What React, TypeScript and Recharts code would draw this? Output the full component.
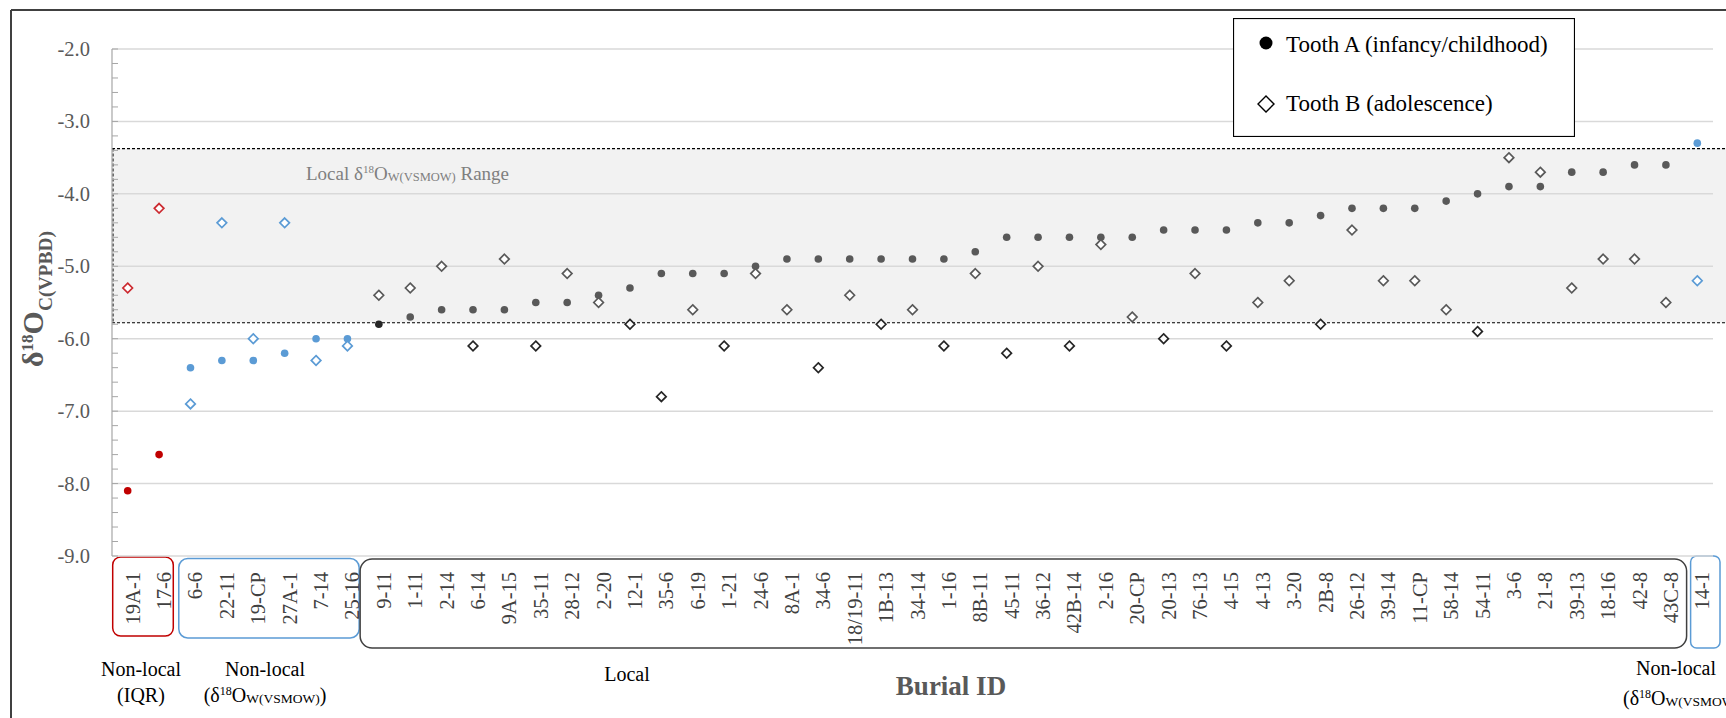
import React from "react"
import { ScatterChart, Scatter, XAxis, YAxis, ReferenceArea, ReferenceLine, Legend } from "recharts"

// Burial IDs in plotted order, with the two tooth values (δ18O carbonate, VPDB)
const burialIds = [
  '19A-1', '17-6', '6-6', '22-11', '19-CP', '27A-1', '7-14', '25-16', '9-11', '1-11',
  '2-14', '6-14', '9A-15', '35-11', '28-12', '2-20', '12-1', '35-6', '6-19', '1-21',
  '24-6', '8A-1', '34-6', '18/19-11', '1B-13', '34-14', '1-16', '8B-11', '45-11', '36-12',
  '42B-14', '2-16', '20-CP', '20-13', '76-13', '4-15', '4-13', '3-20', '2B-8', '26-12',
  '39-14', '11-CP', '58-14', '54-11', '3-6', '21-8', '39-13', '18-16', '42-8', '43C-8', '14-1',
]

const toothA = [
  -8.1, -7.6, -6.4, -6.3, -6.3, -6.2, -6.0, -6.0, -5.8, -5.7,
  -5.6, -5.6, -5.6, -5.5, -5.5, -5.4, -5.3, -5.1, -5.1, -5.1,
  -5.0, -4.9, -4.9, -4.9, -4.9, -4.9, -4.9, -4.8, -4.6, -4.6,
  -4.6, -4.6, -4.6, -4.5, -4.5, -4.5, -4.4, -4.4, -4.3, -4.2,
  -4.2, -4.2, -4.1, -4.0, -3.9, -3.9, -3.7, -3.7, -3.6, -3.6, -3.3,
]

const toothB = [
  -5.3, -4.2, -6.9, -4.4, -6.0, -4.4, -6.3, -6.1, -5.4, -5.3,
  -5.0, -6.1, -4.9, -6.1, -5.1, -5.5, -5.8, -6.8, -5.6, -6.1,
  -5.1, -5.6, -6.4, -5.4, -5.8, -5.6, -6.1, -5.1, -6.2, -5.0,
  -6.1, -4.7, -5.7, -6.0, -5.1, -6.1, -5.5, -5.2, -5.8, -4.5,
  -5.2, -5.2, -5.6, -5.9, -3.5, -3.7, -5.3, -4.9, -4.9, -5.5, -5.2,
]

// groups of burials (first..last id)
const groupSpans = [
  { kind: 'iqr', first: '19A-1', last: '17-6' },
  { kind: 'water', first: '6-6', last: '25-16' },
  { kind: 'local', first: '9-11', last: '43C-8' },
  { kind: 'water', first: '14-1', last: '14-1' },
]

// local δ18Ow(VSMOW) range converted to carbonate values
const localRange = [-5.78, -3.375]

const yMajorTicks = [-9, -8, -7, -6, -5, -4, -3, -2]
const yMinorTicks = [
  -9, -8.8, -8.6, -8.4, -8.2, -8, -7.8, -7.6, -7.4, -7.2, -7, -6.8, -6.6, -6.4, -6.2, -6,
  -5.8, -5.6, -5.4, -5.2, -5, -4.8, -4.6, -4.4, -4.2, -4, -3.8, -3.6, -3.4, -3.2, -3,
  -2.8, -2.6, -2.4, -2.2, -2,
]

const seriesNames = ['Tooth A (infancy/childhood)', 'Tooth B (adolescence)']

const RED = '#c00000'
const RED_LIGHT = '#cc2a30'
const BLUE = '#5b9bd5'
const GRAY = '#595959'
const DARK = '#262626'
const FONT = '"Liberation Serif", "Times New Roman", serif'

const kindOf = (i: number) => {
  const span = groupSpans.find(s => i >= burialIds.indexOf(s.first) && i <= burialIds.indexOf(s.last))
  return span ? span.kind : 'local'
}

const pointsA = burialIds.map((id, i) => ({ x: i, y: toothA[i], id, kind: kindOf(i) }))
const pointsB = burialIds.map((id, i) => ({ x: i, y: toothB[i], id, kind: kindOf(i) }))
const xTicks = burialIds.map((_, i) => i)

const colorFor = (p: any, red = RED) => {
  if (p.kind === 'iqr') return red
  if (p.kind === 'water') return BLUE
  return p.y < localRange[0] ? DARK : GRAY
}

const DotShape = (props: any) => (
  <circle cx={props.cx} cy={props.cy} r={3.8} fill={colorFor(props.payload)} />
)

const DiamondShape = (props: any) => {
  const { cx, cy } = props
  const s = 4.8
  return (
    <path
      d={`M${cx},${cy - s}L${cx + s},${cy}L${cx},${cy + s}L${cx - s},${cy}Z`}
      fill="#fff"
      stroke={colorFor(props.payload, RED_LIGHT)}
      strokeWidth={1.7}
    />
  )
}

const YTick = (props: any) => {
  const { x, y, payload } = props
  const v = payload.value
  const major = Math.abs(v - Math.round(v)) < 1e-6
  return (
    <g>
      <line x1={x} x2={x + 6} y1={y} y2={y} stroke="#a6a6a6" strokeWidth={1} />
      {major && (
        <text x={x - 22} y={y + 7} textAnchor="end" fontSize={20.5} fontFamily={FONT} fill={GRAY}>
          {v.toFixed(1)}
        </text>
      )}
    </g>
  )
}

const XTick = (props: any) => {
  const { x, y, payload } = props
  return (
    <text
      transform={`translate(${x + 5},${y + 16}) rotate(-90)`}
      textAnchor="end"
      dominantBaseline="central"
      fontSize={20.5}
      fontFamily={FONT}
      fill="#404040"
    >
      {burialIds[payload.value]}
    </text>
  )
}

// shaded local range band with dashed border
const BandShape = (props: any) => {
  const { x, y, width, height } = props
  const right = x + width + 20
  return (
    <g>
      <rect x={x} y={y} width={right - x} height={height} fill="#000" fillOpacity={0.05} />
      <line x1={x} x2={right} y1={y} y2={y} stroke="#000" strokeWidth={1.1} strokeDasharray="3 2" />
      <line x1={x} x2={right} y1={y + height} y2={y + height} stroke="#000" strokeWidth={1.1} strokeDasharray="3 2" />
      <line x1={x + 1} x2={x + 1} y1={y} y2={y + height} stroke="#000" strokeWidth={1.1} strokeDasharray="3 2" />
      <text x={x + 194} y={y + 31} fontSize={19} fontFamily={FONT} fill="#7f7f7f">
        Local δ<tspan fontSize={11} dy={-7}>18</tspan>
        <tspan dy={7}>O</tspan>
        <tspan fontSize={12.5} dy={1}>W(VSMOW)</tspan>
        <tspan dy={-1}> Range</tspan>
      </text>
    </g>
  )
}

const boxStyles: Record<string, any>[] = [
  { stroke: RED, dl: 0.7, dr: -1.5, top: 1, h: 79, r: 8 },
  { stroke: BLUE, dl: 4, dr: -4, top: 2.5, h: 79.5, r: 9 },
  { stroke: '#404040', dl: -3, dr: 5, top: 3, h: 89, r: 12 },
  { stroke: BLUE, dl: 9, dr: 7, top: 0, h: 92, r: 6 },
]

const GroupBox = (props: any) => {
  const { x, y, width, height, styleIdx } = props
  const st = boxStyles[styleIdx]
  const left = x + st.dl
  const right = x + width + st.dr
  return (
    <rect
      x={left}
      y={y + height + st.top}
      width={right - left}
      height={st.h}
      rx={st.r}
      ry={st.r}
      fill="none"
      stroke={st.stroke}
      strokeWidth={1.5}
    />
  )
}

const renderLegend = (props: any) => {
  const payload = props.payload || []
  const names = payload.length ? payload.map((p: any) => p.value) : seriesNames
  return (
    <svg width={342} height={119} style={{ display: 'block' }}>
      <rect x={0.5} y={0.5} width={341} height={118} fill="#fff" stroke="#000" strokeWidth={1.2} />
      <circle cx={33} cy={25} r={6.5} fill="#000" />
      <text x={53} y={34} fontSize={23} fontFamily={FONT} fill="#000">{names[0]}</text>
      <path d="M33,78L41,86L33,94L25,86Z" fill="#fff" stroke="#000" strokeWidth={1.4} />
      <text x={53} y={93} fontSize={23} fontFamily={FONT} fill="#000">{names[1]}</text>
    </svg>
  )
}

const IsoLabel = ({ x, y, anchor }: { x: number; y: number; anchor: 'start' | 'middle' }) => (
  <text x={x} y={y} textAnchor={anchor} fontSize={20} fontFamily={FONT} fill="#000">
    (δ<tspan fontSize={12} dy={-7}>18</tspan>
    <tspan dy={7}>O</tspan>
    <tspan fontSize={13.5} dy={1}>W(VSMOW)</tspan>
    <tspan dy={-1}>)</tspan>
  </text>
)

export default function App() {
  return (
    <div style={{ position: 'absolute', left: 0, top: 0, width: 1726, height: 718, overflow: 'hidden', background: '#fff' }}>
      <ScatterChart width={1726} height={718} margin={{ top: 49, right: 13, bottom: 0, left: 0 }}>
        <XAxis
          type="number"
          dataKey="x"
          domain={[-0.5, burialIds.length - 0.5]}
          ticks={xTicks}
          interval={0}
          tick={XTick}
          tickLine={false}
          axisLine={false}
          tickSize={0}
          tickMargin={0}
          height={162}
          allowDataOverflow
        />
        <YAxis
          type="number"
          dataKey="y"
          domain={[-9, -2]}
          ticks={yMinorTicks}
          interval={0}
          tick={YTick}
          tickLine={false}
          tickSize={0}
          tickMargin={0}
          axisLine={{ stroke: '#a6a6a6', strokeWidth: 1.2 }}
          width={112}
          allowDataOverflow
        />
        {yMajorTicks.map(v => (
          <ReferenceLine key={v} y={v} stroke="#d9d9d9" strokeWidth={1.5} />
        ))}
        <ReferenceArea y1={localRange[0]} y2={localRange[1]} ifOverflow="visible" shape={BandShape} />
        {groupSpans.map((s, i) => (
          <ReferenceArea
            key={i}
            x1={burialIds.indexOf(s.first) - 0.5}
            x2={burialIds.indexOf(s.last) + 0.5}
            ifOverflow="visible"
            shape={(p: any) => <GroupBox {...p} styleIdx={i} />}
          />
        ))}
        <Legend
          content={renderLegend}
          layout="horizontal"
          verticalAlign="middle"
          align="center"
          wrapperStyle={{ left: 1233, top: 18, width: 342, height: 119 }}
        />
        <Scatter name={seriesNames[0]} data={pointsA} fill="#000" shape={DotShape} isAnimationActive={false} />
        <Scatter name={seriesNames[1]} data={pointsB} fill="#000" shape={DiamondShape} isAnimationActive={false} />
      </ScatterChart>

      <svg
        width={1726}
        height={718}
        style={{ position: 'absolute', left: 0, top: 0, pointerEvents: 'none' }}
      >
        {/* outer chart frame (right and bottom edges fall outside the picture) */}
        <line x1={11} x2={1726} y1={10} y2={10} stroke="#404040" strokeWidth={2} />
        <line x1={11} x2={11} y1={10} y2={718} stroke="#404040" strokeWidth={2} />

        <text transform="translate(43,367) rotate(-90)" fontFamily={FONT} fontWeight="bold" fill={GRAY}>
          <tspan fontSize={30}>δ</tspan>
          <tspan fontSize={17} dy={-10}>18</tspan>
          <tspan fontSize={30} dy={10}>O</tspan>
          <tspan fontSize={19.5} dy={9}>C(VPBD)</tspan>
        </text>

        <text x={951} y={695} textAnchor="middle" fontSize={27} fontWeight="bold" fontFamily={FONT} fill={GRAY}>
          Burial ID
        </text>

        <text x={141} y={676} textAnchor="middle" fontSize={20} fontFamily={FONT} fill="#000">Non-local</text>
        <text x={141} y={702} textAnchor="middle" fontSize={20} fontFamily={FONT} fill="#000">(IQR)</text>
        <text x={265} y={676} textAnchor="middle" fontSize={20} fontFamily={FONT} fill="#000">Non-local</text>
        <IsoLabel x={265} y={702} anchor="middle" />
        <text x={627} y={681} textAnchor="middle" fontSize={20} fontFamily={FONT} fill="#000">Local</text>
        <text x={1676} y={675} textAnchor="middle" fontSize={20} fontFamily={FONT} fill="#000">Non-local</text>
        <IsoLabel x={1623} y={705} anchor="start" />
      </svg>
    </div>
  )
}
